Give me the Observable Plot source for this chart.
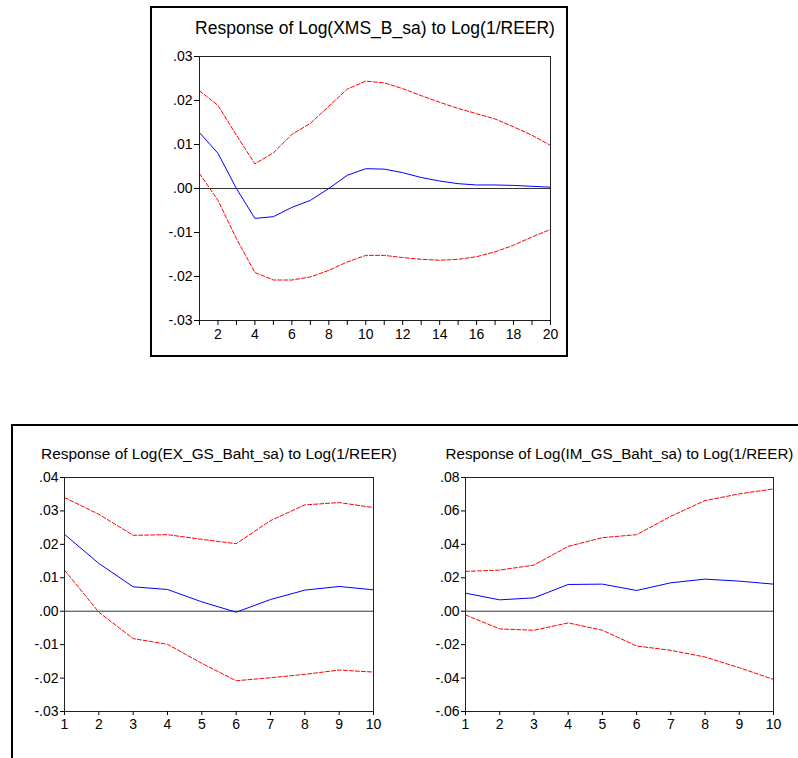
<!DOCTYPE html>
<html>
<head>
<meta charset="utf-8">
<script src="https://cdn.jsdelivr.net/npm/d3@7"></script>
<script src="https://cdn.jsdelivr.net/npm/@observablehq/plot@0.6"></script>
<style>
  body { margin:0; background:#fff; width:798px; height:758px; position:relative; overflow:hidden; font-family:"Liberation Sans", Arial, sans-serif; }
  .abs { position:absolute; }
</style>
</head>
<body>
<div class="abs" style="left:150px;top:6px;width:414px;height:347px;border:2px solid #000;"></div>
<div class="abs" style="left:11px;top:424px;width:820px;height:400px;border-left:2px solid #000;border-top:2px solid #000;"></div>
<div id="c1" class="abs" style="left:150px;top:0px;"></div>
<div id="c2" class="abs" style="left:14px;top:426px;"></div>
<div id="c3" class="abs" style="left:410px;top:426px;"></div>
<script>
// ---------- data ----------
const periods20 = [1,2,3,4,5,6,7,8,9,10,11,12,13,14,15,16,17,18,19,20];
const periods10 = [1,2,3,4,5,6,7,8,9,10];

const titleXMS = "Response of Log(XMS_B_sa) to Log(1/REER)";
const xmsResponse = [0.0127,0.0080,0.0000,-0.0068,-0.0064,-0.0043,-0.0027,0.0000,0.0030,0.0045,0.0044,0.0036,0.0025,0.0017,0.0011,0.0008,0.0008,0.0007,0.0005,0.0003];
const xmsUpper = [0.0222,0.0189,0.0121,0.0056,0.0081,0.0123,0.0148,0.0187,0.0226,0.0244,0.0240,0.0227,0.0211,0.0196,0.0182,0.0170,0.0158,0.0140,0.0121,0.0098];
const xmsLower = [0.0034,-0.0027,-0.0114,-0.0191,-0.0208,-0.0208,-0.0201,-0.0186,-0.0167,-0.0152,-0.0152,-0.0157,-0.0161,-0.0163,-0.0161,-0.0155,-0.0144,-0.0129,-0.0110,-0.0093];
const xmsYTicks = [-0.03,-0.02,-0.01,0,0.01,0.02,0.03];

const titleEX = "Response of Log(EX_GS_Baht_sa) to Log(1/REER)";
const exResponse = [0.0230,0.0143,0.0073,0.0065,0.0028,-0.0003,0.0035,0.0063,0.0074,0.0064];
const exUpper = [0.0340,0.0290,0.0227,0.0229,0.0215,0.0202,0.0271,0.0318,0.0325,0.0310];
const exLower = [0.0123,-0.0003,-0.0082,-0.0099,-0.0156,-0.0208,-0.0199,-0.0189,-0.0176,-0.0182];
const exYTicks = [-0.03,-0.02,-0.01,0,0.01,0.02,0.03,0.04];

const titleIM = "Response of Log(IM_GS_Baht_sa) to Log(1/REER)";
const imResponse = [0.0108,0.0068,0.0080,0.0160,0.0162,0.0124,0.0170,0.0192,0.0180,0.0162];
const imUpper = [0.0238,0.0246,0.0276,0.0388,0.0440,0.0458,0.0568,0.0662,0.0702,0.0732];
const imLower = [-0.0022,-0.0106,-0.0114,-0.0070,-0.0114,-0.0208,-0.0234,-0.0274,-0.0338,-0.0408];
const imYTicks = [-0.06,-0.04,-0.02,0,0.02,0.04,0.06,0.08];

// ---------- helpers ----------
const fmtY = d => (d < -1e-9 ? "-" : "") + Math.abs(d).toFixed(2).replace(/^0/, "");

function irfChart({title, periods, resp, upper, lower, yTicks, xLabelFn, width, height, margins, titleSize, titleDy, fontSize, tickSize}) {
  const rows = v => periods.map((p, i) => ({p, v: v[i]}));
  return Plot.plot({
    width, height,
    marginLeft: margins[0], marginRight: margins[1], marginTop: margins[2], marginBottom: margins[3],
    style: {fontFamily: '"Liberation Sans", Arial, sans-serif', fontSize: fontSize + "px", color: "#000", background: "transparent", overflow: "visible"},
    x: {domain: [periods[0], periods[periods.length - 1]]},
    y: {domain: [yTicks[0], yTicks[yTicks.length - 1]]},
    marks: [
      Plot.ruleY([0], {stroke: "#333", strokeWidth: 1}),
      Plot.lineY(rows(upper), {x: "p", y: "v", stroke: "#ff0000", strokeWidth: 1, strokeDasharray: "4,2"}),
      Plot.lineY(rows(lower), {x: "p", y: "v", stroke: "#ff0000", strokeWidth: 1, strokeDasharray: "4,2"}),
      Plot.lineY(rows(resp), {x: "p", y: "v", stroke: "#0000ff", strokeWidth: 1}),
      Plot.frame({stroke: "#222", strokeWidth: 1}),
      Plot.axisX({ticks: periods, tickFormat: xLabelFn, tickSize, tickPadding: 4, label: null, stroke: "#000", fontSize: fontSize}),
      Plot.axisY({ticks: yTicks, tickFormat: fmtY, tickSize, tickPadding: 2, label: null, stroke: "#000", fontSize: fontSize}),
      Plot.text([title], {frameAnchor: "top", lineAnchor: "middle", dy: titleDy, text: d => d, fontSize: titleSize, fill: "#000"})
    ]
  });
}

document.getElementById("c1").append(irfChart({
  title: titleXMS, periods: periods20, resp: xmsResponse, upper: xmsUpper, lower: xmsLower, yTicks: xmsYTicks,
  xLabelFn: d => (d % 2 === 0 ? String(d) : ""),
  width: 418, height: 357, margins: [49, 18, 56, 37], titleSize: 17.5, titleDy: -28, fontSize: 14, tickSize: 5
}));

document.getElementById("c2").append(irfChart({
  title: titleEX, periods: periods10, resp: exResponse, upper: exUpper, lower: exLower, yTicks: exYTicks,
  xLabelFn: d => String(d),
  width: 384, height: 332, margins: [50, 25, 51, 47], titleSize: 15.4, titleDy: -23, fontSize: 14, tickSize: 4
}));

document.getElementById("c3").append(irfChart({
  title: titleIM, periods: periods10, resp: imResponse, upper: imUpper, lower: imLower, yTicks: imYTicks,
  xLabelFn: d => String(d),
  width: 388, height: 332, margins: [55, 25, 51, 47], titleSize: 15.2, titleDy: -23, fontSize: 14, tickSize: 4
}));
</script>
</body>
</html>
